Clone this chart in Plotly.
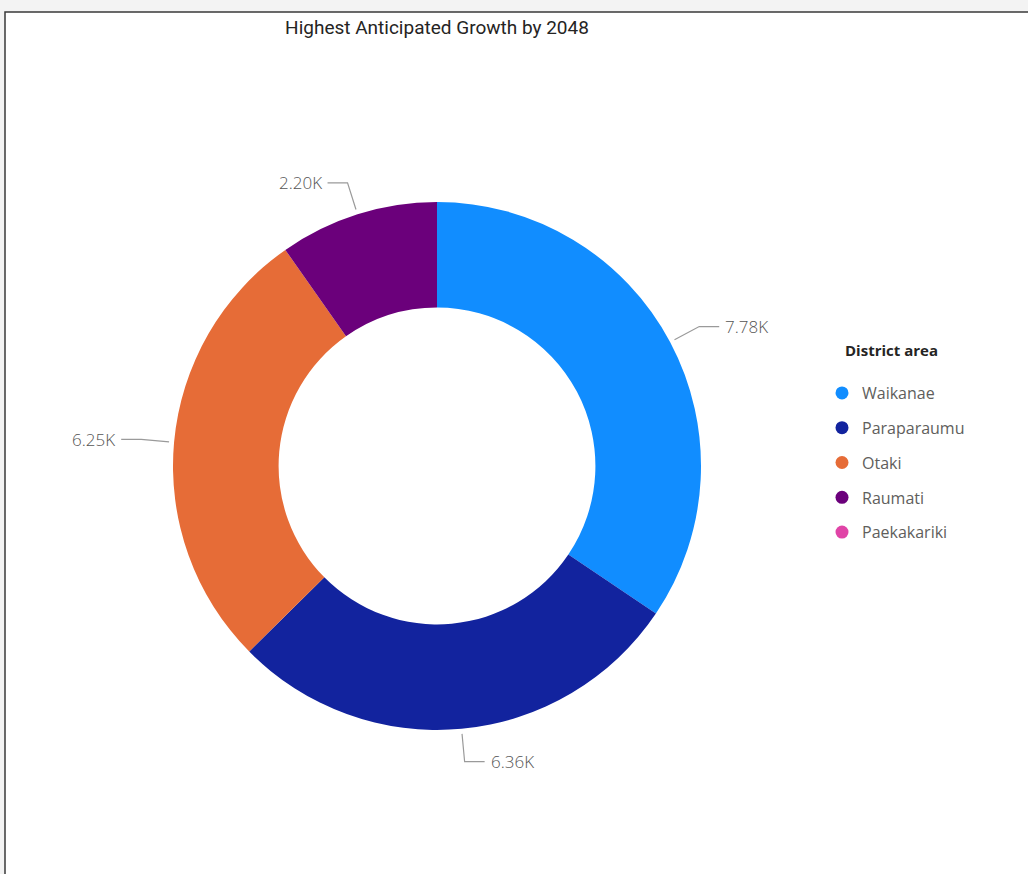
import math
import plotly.graph_objects as go

# ---- data ----
areas = ["Waikanae", "Paraparaumu", "Otaki", "Raumati", "Paekakariki"]
growth = [7780, 6360, 6250, 2200, 0]
value_labels = ["7.78K", "6.36K", "6.25K", "2.20K", ""]
colors = ["#118DFF", "#12239E", "#E66C37", "#6B007B", "#E044A7"]
title_text = "Highest Anticipated Growth by 2048"
legend_title = "District area"

# ---- layout geometry (pixels) ----
W, H = 1028, 874
CX, CY, R = 437, 466, 264
HOLE = 0.6


def px(x):
    return x / W


def py(y):
    return 1 - y / H


fig = go.Figure()
fig.add_trace(go.Pie(
    labels=areas, values=growth, hole=HOLE, sort=False,
    direction="clockwise", rotation=0,
    marker=dict(colors=colors, line=dict(width=0)),
    textinfo="none", hoverinfo="label+value", showlegend=False,
    domain=dict(x=[px(CX - R), px(CX + R)], y=[py(CY + R), py(CY - R)]),
))

# legend entries with circle markers
for i, (name, col) in enumerate(zip(areas, colors)):
    fig.add_trace(go.Scatter(
        x=[None], y=[None], mode="markers", name=name, legendgroup=name,
        marker=dict(color=col, size=13, symbol="circle"),
    ))

# data labels with leader lines, derived from the values
shapes = [dict(type="rect", xref="paper", yref="paper",
               x0=px(5), y0=py(12), x1=px(W + 10), y1=py(H + 10),
               line=dict(color="#3a3a3a", width=1.5), fillcolor="white",
               layer="below")]
annotations = []
total = sum(growth)
cum = 0.0
for v, lab in zip(growth, value_labels):
    if v <= 0:
        cum += v
        continue
    mid = (cum + v / 2) / total * 2 * math.pi
    cum += v
    ux, uy = math.sin(mid), -math.cos(mid)
    x1, y1 = CX + (R + 5) * ux, CY + (R + 5) * uy
    x2, y2 = CX + (R + 33) * ux, CY + (R + 33) * uy
    side = 1 if ux >= 0 else -1
    x3 = x2 + side * 20
    shapes.append(dict(
        type="path", xref="paper", yref="paper",
        path=f"M {px(x1)},{py(y1)} L {px(x2)},{py(y2)} L {px(x3)},{py(y2)}",
        line=dict(color="#9a9a9a", width=1.2),
    ))
    annotations.append(dict(
        x=px(x3 + side * 4), y=py(y2), xref="paper", yref="paper",
        text=lab, showarrow=False,
        xanchor="left" if side > 0 else "right", yanchor="middle",
        font=dict(family="Open Sans, Noto Sans, sans-serif", size=17,
                  color="#555555", weight=300),
    ))

# legend heading
annotations.append(dict(
    x=px(843), y=py(350), xref="paper", yref="paper",
    text="<b>" + legend_title + "</b>", showarrow=False,
    xanchor="left", yanchor="middle",
    font=dict(family="Open Sans, sans-serif", size=15, color="#252423"),
))

fig.update_layout(
    width=W, height=H,
    margin=dict(l=0, r=0, t=0, b=0),
    paper_bgcolor="#F3F3F3",
    plot_bgcolor="rgba(0,0,0,0)",
    title=dict(text=title_text, x=px(437), xanchor="center", y=py(27), yanchor="middle",
               font=dict(family="Roboto, Open Sans, sans-serif", size=19, color="#252423")),
    xaxis=dict(visible=False, domain=[0.9, 0.95]),
    yaxis=dict(visible=False, domain=[0.9, 0.95]),
    shapes=shapes,
    annotations=annotations,
    legend=dict(
        x=px(822), y=py(376), xanchor="left", yanchor="top",
        font=dict(family="Open Sans, sans-serif", size=16, color="#605E5C"),
        tracegroupgap=11, itemwidth=30,
        bgcolor="rgba(0,0,0,0)",
    ),
)

fig.write_html("out.html")
